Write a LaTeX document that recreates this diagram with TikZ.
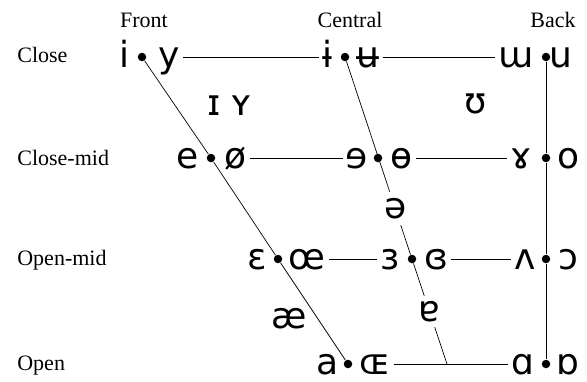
\documentclass[tikz,border=0pt]{standalone}
\usepackage{fontspec}
\setmainfont{Liberation Serif}
\newfontfamily\ipafont{DejaVu Sans}
\usetikzlibrary{calc,positioning}

\begin{document}
\begin{tikzpicture}[x=1pt,y=-1pt,
    vow/.style={font=\ipafont\fontsize{36}{36}\selectfont, inner xsep=3pt, inner ysep=0pt, anchor=base},
    lbl/.style={font=\fontsize{22}{22}\selectfont, inner sep=0pt},
    dot/.style={circle, fill, inner sep=0pt, minimum size=8.5pt},
    line width=0.7pt]
    \useasboundingbox (0,0) rectangle (587,381);

    % column and row labels
    \node[lbl, anchor=base] (front) at (144,27) {Front};
    \node[lbl, anchor=base] (central) at (350,27) {Central};
    \node[lbl, anchor=base east] (back) at (576,27) {Back};
    \node[lbl, anchor=base west] (close) at (17,62) {Close};
    \node[lbl, anchor=base west] (closemid) at (17,165) {Close-mid};
    \node[lbl, anchor=base west] (openmid) at (17,265) {Open-mid};
    \node[lbl, anchor=base west] (open) at (17,370) {Open};

    % dots
    \node[dot] (d11) at (142,57) {};
    \node[dot] (d12) at (345,57) {};
    \node[dot] (d13) at (546,57) {};
    \node[dot] (d21) at (211,158) {};
    \node[dot] (d22) at (378,158) {};
    \node[dot] (d23) at (546,158) {};
    \node[dot] (d31) at (278,259) {};
    \node[dot] (d32) at (412,259) {};
    \node[dot] (d33) at (546,259) {};
    \node[dot] (d41) at (348,364) {};
    \node[dot] (d43) at (546,364) {};
    \coordinate (c4) at (447,364);

    % close
    \node[vow] (i) at (125,67.5) {i};
    \node[vow] (y) at (169,67.5) {y};
    \node[vow] (ibar) at (327,67.5) {ɨ};
    \node[vow] (ubar) at (368,67.5) {ʉ};
    \node[vow] (turnedm) at (516,67.5) {ɯ};
    \node[vow] (u) at (561,67.5) {u};
    % close-mid
    \node[vow] (e) at (188,168) {e};
    \node[vow] (oslash) at (236,168) {ø};
    \node[vow] (reve) at (357,168) {ɘ};
    \node[vow] (baro) at (402,168) {ɵ};
    \node[vow] (ramshorn) at (521,168) {ɤ};
    \node[vow] (o) at (569,168) {o};
    % open-mid
    \node[vow] (epsilon) at (257,269) {ɛ};
    \node[vow] (oe) at (307,269) {œ};
    \node[vow] (reveps) at (390,269) {ɜ};
    \node[vow] (closedreveps) at (436,269) {ɞ};
    \node[vow] (turnedv) at (525,269) {ʌ};
    \node[vow] (openo) at (568,269) {ɔ};
    % open
    \node[vow] (a) at (328,374) {a};
    \node[vow] (smalloe) at (375,374) {ɶ};
    \node[vow] (alpha) at (523,374) {ɑ};
    \node[vow] (turnedalpha) at (568,374) {ɒ};
    % in between
    \node[vow] (smalli) at (214,115) {ɪ};
    \node[vow] (smally) at (241,115) {ʏ};
    \node[vow] (upsilon) at (476,113) {ʊ};
    \node[vow] (ash) at (289,328) {æ};
    \node[vow, anchor=center, inner sep=6pt] (schwa) at ($(d12)!0.75!(d32)$) {ə};
    \node[vow, anchor=center, inner sep=5pt] (turneda) at ($(d32)!0.5!(c4)$) {ɐ};

    % trapezium
    \draw (d11) -- (d21) -- (d31) -- (d41);
    \draw (d12) -- (schwa) -- (d32) -- (turneda) -- (c4);
    \draw (d13) -- (d23) -- (d33) -- (d43);

    \draw (y.east |- d11) -- (ibar.west |- d11);
    \draw (ubar.east |- d12) -- (turnedm.west |- d13);
    \draw (oslash.east |- d21) -- (reve.west |- d22);
    \draw (baro.east |- d22) -- (ramshorn.west |- d23);
    \draw (oe.east |- d31) -- (reveps.west |- d32);
    \draw (closedreveps.east |- d32) -- (turnedv.west |- d33);
    \draw (smalloe.east |- d41) -- (alpha.west |- d43);
\end{tikzpicture}
\end{document}
